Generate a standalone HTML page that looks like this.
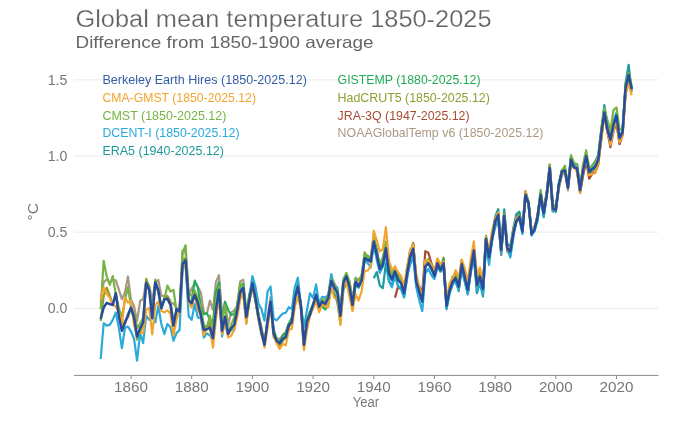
<!DOCTYPE html>
<html><head><meta charset="utf-8"><style>
html,body{margin:0;padding:0;background:#fff;width:680px;height:422px;overflow:hidden}
svg{display:block;font-family:"Liberation Sans",sans-serif;will-change:transform}
</style></head><body>
<svg width="680" height="422" viewBox="0 0 680 422">
<rect width="680" height="422" fill="#fff"/>
<line x1="74" x2="658" y1="308.30" y2="308.30" stroke="#eaeaea" stroke-width="1"/>
<line x1="74" x2="658" y1="232.15" y2="232.15" stroke="#eaeaea" stroke-width="1"/>
<line x1="74" x2="658" y1="156.00" y2="156.00" stroke="#eaeaea" stroke-width="1"/>
<line x1="74" x2="658" y1="79.85" y2="79.85" stroke="#eaeaea" stroke-width="1"/>
<text x="75.5" y="26.5" font-size="23.5" fill="#626262" stroke="#fff" stroke-width="0.25" textLength="416" lengthAdjust="spacingAndGlyphs">Global mean temperature 1850-2025</text>
<text x="75.5" y="47.5" font-size="16.5" fill="#666" textLength="298" lengthAdjust="spacingAndGlyphs">Difference from 1850-1900 average</text>
<text x="67.4" y="313.30" font-size="14" fill="#777" text-anchor="end" textLength="19.7" lengthAdjust="spacingAndGlyphs">0.0</text>
<text x="67.4" y="237.15" font-size="14" fill="#777" text-anchor="end" textLength="19.7" lengthAdjust="spacingAndGlyphs">0.5</text>
<text x="67.4" y="161.00" font-size="14" fill="#777" text-anchor="end" textLength="19.7" lengthAdjust="spacingAndGlyphs">1.0</text>
<text x="67.4" y="84.85" font-size="14" fill="#777" text-anchor="end" textLength="19.7" lengthAdjust="spacingAndGlyphs">1.5</text>
<text transform="translate(38,220.5) rotate(-90)" x="0" y="0" font-size="15.5" fill="#777">°C</text>
<polyline points="100.66,302.66 103.69,282.10 106.72,279.52 109.76,282.26 112.79,279.82 115.83,280.43 118.86,289.57 121.90,299.16 124.93,292.46 127.97,276.47 131.00,299.77 134.03,306.02 137.07,321.40 140.10,300.99 143.14,299.01 146.17,281.65 149.21,285.91 152.24,299.92 155.28,282.56 158.31,279.97 161.34,295.66 164.38,296.12 167.41,298.86 170.45,303.88 173.48,303.12 176.52,308.15 179.55,311.65 182.58,250.27 185.62,253.32 188.65,295.05 191.69,288.50 194.72,283.63 197.76,286.83 200.79,292.46 203.82,312.72 206.86,313.63 209.89,300.69 212.93,309.82 215.96,281.95 219.00,275.25 222.03,314.70 225.07,301.45 228.10,325.05 231.13,312.56 234.17,310.43 237.20,306.78 240.24,281.50 243.27,279.67 246.31,312.56 249.34,295.51 252.38,280.28 255.41,292.77 258.44,313.94 261.48,327.03 264.51,343.33 267.55,316.98 270.58,297.18 273.62,331.45 276.65,338.46 279.68,338.91 282.72,335.87 285.75,336.02 288.79,325.36 291.82,322.31 294.86,296.12 297.89,287.89 300.92,302.97 303.96,345.77 306.99,318.81 310.03,315.46 313.06,304.34 316.10,293.68 319.13,306.32 322.17,300.99 325.20,302.51 328.23,296.88 331.27,281.19 334.30,288.50 337.34,291.24 340.37,311.80 343.41,280.12 346.44,277.23 349.48,283.17 352.51,301.60 355.54,277.54 358.58,285.76 361.61,276.47 364.65,258.35 367.68,256.21 370.72,260.02 373.75,238.85 376.78,249.51 379.82,268.40 382.85,261.85 385.89,243.12 388.92,272.05 391.96,278.91 394.99,266.42 398.02,277.69 401.06,279.21 404.09,293.37 407.13,271.60 410.16,256.06 413.20,245.40 416.23,281.80 419.27,286.52 422.30,302.06 425.33,262.76 428.37,264.13 431.40,267.64 434.44,271.90 437.47,263.52 440.51,270.23 443.54,260.33 446.57,304.64 449.61,290.94 452.64,276.93 455.68,278.60 458.71,287.89 461.75,263.52 464.78,275.10 467.82,286.98 470.85,269.16 473.88,250.12 476.92,286.52 479.95,275.71 482.99,286.06 486.02,236.41 489.06,253.78 492.09,235.65 495.12,218.29 498.16,212.66 501.19,249.21 504.23,216.62 507.26,246.31 510.30,251.80 513.33,234.89 516.37,220.42 519.40,214.03 522.43,233.06 525.47,193.77 528.50,203.37 531.54,233.67 534.57,230.93 537.61,213.87 540.64,196.05 543.67,212.35 546.71,195.90 549.74,171.23 552.78,208.09 555.81,210.37 558.85,187.83 561.88,174.73 564.92,172.91 567.95,190.27 570.98,159.66 574.02,168.03 577.05,166.20 580.09,188.29 583.12,168.49 586.16,158.89 589.19,173.67 592.22,171.99 595.26,167.73 598.29,160.72 601.33,133.16 604.36,113.20 607.40,132.55 610.43,142.45 613.47,127.06 616.50,121.12 619.53,143.51 622.57,135.59 625.60,92.64 628.64,76.50 631.67,92.34" fill="none" stroke="#ab9884" stroke-width="2.2" stroke-linejoin="round"/>
<polyline points="394.99,297.64 398.02,286.83 401.06,289.26 404.09,292.77 407.13,274.95 410.16,256.21 413.20,243.12 416.23,279.82 419.27,286.83 422.30,291.85 425.33,251.19 428.37,252.71 431.40,263.22 434.44,272.36 437.47,263.07 440.51,269.46 443.54,264.13 446.57,305.25 449.61,288.96 452.64,277.99 455.68,277.99 458.71,288.35 461.75,265.35 464.78,276.77 467.82,292.77 470.85,267.94 473.88,251.80 476.92,284.85 479.95,278.60 482.99,288.96 486.02,240.37 489.06,258.04 492.09,237.63 495.12,223.01 498.16,219.36 501.19,255.00 504.23,215.70 507.26,251.04 510.30,254.84 513.33,233.06 516.37,222.40 519.40,217.22 522.43,230.17 525.47,196.82 528.50,204.28 531.54,231.54 534.57,230.63 537.61,214.18 540.64,195.60 543.67,210.07 546.71,191.79 549.74,164.68 552.78,203.97 555.81,208.09 558.85,185.55 561.88,173.21 564.92,170.32 567.95,187.98 570.98,163.62 574.02,166.81 577.05,170.77 580.09,192.70 583.12,175.49 586.16,161.03 589.19,178.69 592.22,173.82 595.26,172.30 598.29,164.68 601.33,138.64 604.36,115.49 607.40,131.78 610.43,147.17 613.47,131.18 616.50,123.56 619.53,144.12 622.57,134.07 625.60,92.34 628.64,74.82 631.67,89.29" fill="none" stroke="#a84b2e" stroke-width="2.2" stroke-linejoin="round"/>
<polyline points="100.66,320.94 103.69,296.12 106.72,287.74 109.76,295.51 112.79,304.34 115.83,293.37 118.86,312.11 121.90,327.95 124.93,320.79 127.97,317.44 131.00,307.54 134.03,319.42 137.07,339.52 140.10,331.75 143.14,325.05 146.17,278.91 149.21,286.98 152.24,315.61 155.28,279.67 158.31,292.77 161.34,308.60 164.38,297.94 167.41,295.96 170.45,300.84 173.48,320.94 176.52,311.35 179.55,308.91 182.58,260.48 185.62,257.89 188.65,300.84 191.69,300.23 194.72,295.81 197.76,296.57 200.79,309.37 203.82,327.64 206.86,329.47 209.89,322.46 212.93,336.63 215.96,305.86 219.00,286.52 222.03,330.69 225.07,317.74 228.10,333.73 231.13,329.77 234.17,329.17 237.20,313.94 240.24,290.48 243.27,294.44 246.31,323.68 249.34,301.45 252.38,286.67 255.41,300.99 258.44,319.57 261.48,335.10 264.51,344.24 267.55,325.66 270.58,304.34 273.62,336.93 276.65,341.81 279.68,346.22 282.72,341.20 285.75,337.08 288.79,327.19 291.82,323.07 294.86,296.73 297.89,289.87 300.92,309.37 303.96,346.98 306.99,320.18 310.03,313.78 313.06,305.25 316.10,295.81 319.13,308.15 322.17,301.14 325.20,305.86 328.23,295.96 331.27,277.08 334.30,283.32 337.34,289.26 340.37,310.89 343.41,283.02 346.44,275.10 349.48,281.34 352.51,300.23 355.54,279.52 358.58,280.12 361.61,276.01 364.65,252.41 367.68,256.97 370.72,259.11 373.75,237.02 376.78,252.56 379.82,265.35 382.85,257.74 385.89,244.94 388.92,272.05 391.96,278.45 394.99,269.46 398.02,274.18 401.06,280.12 404.09,290.48 407.13,272.05 410.16,249.97 413.20,245.86 416.23,279.97 419.27,290.79 422.30,300.84 425.33,265.20 428.37,259.11 431.40,267.33 434.44,273.42 437.47,260.48 440.51,268.85 443.54,257.58 446.57,305.25 449.61,286.98 452.64,277.38 455.68,276.16 458.71,281.19 461.75,261.85 464.78,276.62 467.82,288.20 470.85,269.01 473.88,248.90 476.92,284.54 479.95,272.36 482.99,285.15 486.02,237.33 489.06,258.50 492.09,238.09 495.12,221.49 498.16,215.24 501.19,250.27 504.23,212.35 507.26,249.06 510.30,253.02 513.33,229.56 516.37,219.36 519.40,212.96 522.43,231.08 525.47,191.64 528.50,201.54 531.54,231.69 534.57,227.12 537.61,216.46 540.64,196.97 543.67,214.79 546.71,193.16 549.74,165.75 552.78,205.95 555.81,210.07 558.85,184.02 561.88,169.86 564.92,169.55 567.95,185.39 570.98,159.66 574.02,166.51 577.05,167.27 580.09,191.33 583.12,167.88 586.16,153.26 589.19,174.58 592.22,166.05 595.26,163.92 598.29,158.74 601.33,135.90 604.36,110.16 607.40,131.33 610.43,136.96 613.47,123.86 616.50,118.38 619.53,140.16 622.57,131.63 625.60,87.01 628.64,73.45 631.67,88.53" fill="none" stroke="#909d30" stroke-width="2.2" stroke-linejoin="round"/>
<polyline points="191.69,299.31 194.72,280.58 197.76,287.13 200.79,306.47 203.82,314.24 206.86,313.17 209.89,319.27 212.93,322.92 215.96,292.46 219.00,282.10 222.03,320.79 225.07,302.21 228.10,309.67 231.13,315.00 234.17,314.09 237.20,305.86 240.24,286.37 243.27,284.08 246.31,316.07 249.34,294.59 252.38,283.02 255.41,300.08 258.44,314.24 261.48,332.82 264.51,342.87 267.55,322.31 270.58,302.97 273.62,328.71 276.65,340.13 279.68,342.11 282.72,335.10 285.75,332.21 288.79,323.68 291.82,317.44 294.86,296.12 297.89,284.08 300.92,306.62 303.96,341.20 306.99,319.72 310.03,311.19 313.06,304.49 316.10,297.18 319.13,309.21 322.17,306.17 325.20,309.52 328.23,305.10 331.27,287.13 334.30,293.07 337.34,302.21 340.37,323.23 343.41,289.87 346.44,282.87 349.48,289.26 352.51,308.00 355.54,285.45 358.58,287.59 361.61,279.67 364.65,260.48 367.68,255.60 370.72,262.31 373.75,238.24 376.78,249.82 379.82,269.01 382.85,260.33 385.89,246.16 388.92,270.07 391.96,280.28 394.99,271.75 398.02,279.36 401.06,277.99 404.09,292.61 407.13,269.46 410.16,251.80 413.20,244.18 416.23,280.58 419.27,290.48 422.30,299.47 425.33,262.91 428.37,264.13 431.40,265.20 434.44,272.51 437.47,259.72 440.51,271.75 443.54,259.41 446.57,306.93 449.61,289.72 452.64,279.97 455.68,274.64 458.71,286.67 461.75,260.78 464.78,276.32 467.82,290.33 470.85,268.70 473.88,251.80 476.92,287.13 479.95,278.45 482.99,287.43 486.02,235.81 489.06,259.26 492.09,240.98 495.12,220.88 498.16,214.79 501.19,250.58 504.23,217.53 507.26,247.53 510.30,249.51 513.33,233.52 516.37,221.18 519.40,219.66 522.43,228.80 525.47,197.73 528.50,203.21 531.54,232.00 534.57,231.39 537.61,215.55 540.64,192.10 543.67,212.50 546.71,193.77 549.74,170.77 552.78,209.00 555.81,212.05 558.85,182.80 561.88,172.91 564.92,170.77 567.95,184.33 570.98,157.68 574.02,164.53 577.05,168.64 580.09,189.96 583.12,169.10 586.16,156.15 589.19,173.21 592.22,169.55 595.26,168.79 598.29,160.57 601.33,130.11 604.36,109.85 607.40,128.28 610.43,139.86 613.47,125.84 616.50,118.08 619.53,139.55 622.57,130.72 625.60,85.18 628.64,75.89 631.67,88.68" fill="none" stroke="#22ab58" stroke-width="2.2" stroke-linejoin="round"/>
<polyline points="373.75,278.30 376.78,272.05 379.82,285.61 382.85,288.20 385.89,263.37 388.92,281.04 391.96,285.00 394.99,275.56 398.02,286.52 401.06,286.98 404.09,296.57 407.13,278.45 410.16,259.41 413.20,249.06 416.23,285.76 419.27,294.75 422.30,301.90 425.33,264.59 428.37,263.52 431.40,269.16 434.44,275.25 437.47,266.42 440.51,268.70 443.54,265.50 446.57,309.06 449.61,293.68 452.64,284.69 455.68,278.30 458.71,291.09 461.75,266.42 464.78,280.28 467.82,294.29 470.85,272.20 473.88,257.89 476.92,293.22 479.95,283.02 482.99,296.42 486.02,242.20 489.06,258.95 492.09,235.65 495.12,216.92 498.16,209.15 501.19,242.05 504.23,209.46 507.26,244.03 510.30,245.86 513.33,228.34 516.37,214.03 519.40,211.59 522.43,229.26 525.47,191.18 528.50,203.21 531.54,232.91 534.57,226.51 537.61,218.75 540.64,195.29 543.67,217.07 546.71,196.21 549.74,169.10 552.78,211.44 555.81,209.46 558.85,185.85 561.88,170.16 564.92,169.25 567.95,186.00 570.98,159.05 574.02,164.07 577.05,164.22 580.09,188.44 583.12,167.57 586.16,156.61 589.19,168.49 592.22,165.59 595.26,161.03 598.29,154.93 601.33,130.41 604.36,105.13 607.40,125.84 610.43,139.70 613.47,122.19 616.50,113.05 619.53,136.96 622.57,131.02 625.60,82.59 628.64,64.77 631.67,90.82" fill="none" stroke="#1d9a99" stroke-width="2.2" stroke-linejoin="round"/>
<polyline points="100.66,359.02 103.69,323.23 106.72,325.66 109.76,324.90 112.79,319.87 115.83,312.41 118.86,328.10 121.90,348.20 124.93,328.10 127.97,326.58 131.00,331.60 134.03,338.76 137.07,360.54 140.10,333.12 143.14,343.18 146.17,315.76 149.21,319.87 152.24,314.85 155.28,322.46 158.31,305.86 161.34,323.99 164.38,334.04 167.41,323.99 170.45,327.34 173.48,340.74 176.52,333.12 179.55,329.93 182.58,268.85 185.62,264.13 188.65,316.22 191.69,319.87 194.72,303.73 197.76,317.44 200.79,318.05 203.82,337.54 206.86,333.43 209.89,335.41 212.93,340.44 215.96,307.69 219.00,292.16 222.03,336.48 225.07,319.72 228.10,334.95 231.13,326.27 234.17,330.38 237.20,310.89 240.24,289.26 243.27,287.28 246.31,312.26 249.34,298.25 252.38,276.01 255.41,286.67 258.44,303.43 261.48,309.37 264.51,320.64 267.55,291.55 270.58,286.52 273.62,318.50 276.65,320.33 279.68,316.68 282.72,313.63 285.75,312.72 288.79,307.23 291.82,309.06 294.86,286.98 297.89,277.69 300.92,305.86 303.96,326.88 306.99,309.98 310.03,293.22 313.06,297.94 316.10,284.39 319.13,303.88 322.17,296.88 325.20,297.64 328.23,295.20 331.27,274.18 334.30,287.43 337.34,287.28 340.37,311.96 343.41,282.10 346.44,273.73 349.48,288.04 352.51,303.27 355.54,281.04 358.58,287.59 361.61,282.41 364.65,258.80 367.68,263.07 370.72,267.48 373.75,244.33 376.78,260.02 379.82,272.97 382.85,266.87 385.89,253.17 388.92,281.50 391.96,287.28 394.99,275.40 398.02,285.45 401.06,289.57 404.09,297.64 407.13,275.56 410.16,264.74 413.20,256.82 416.23,286.98 419.27,300.53 422.30,311.19 425.33,273.27 428.37,269.01 431.40,275.25 434.44,279.06 437.47,267.94 440.51,271.14 443.54,268.09 446.57,308.00 449.61,289.87 452.64,282.10 455.68,282.87 458.71,289.72 461.75,269.46 464.78,282.26 467.82,294.14 470.85,270.23 473.88,251.49 476.92,291.09 479.95,281.95 482.99,293.68 486.02,246.62 489.06,264.89 492.09,240.07 495.12,228.04 498.16,216.77 501.19,254.23 504.23,215.55 507.26,248.45 510.30,257.58 513.33,238.09 516.37,219.66 519.40,218.29 522.43,233.98 525.47,194.53 528.50,202.45 531.54,235.65 534.57,230.63 537.61,221.03 540.64,196.82 543.67,216.77 546.71,195.14 549.74,167.88 552.78,211.44 555.81,209.76 558.85,187.98 561.88,174.73 564.92,169.40 567.95,187.68 570.98,156.76 574.02,166.51 577.05,166.81 580.09,192.86 583.12,167.88 586.16,159.20 589.19,171.08 592.22,165.75 595.26,163.62 598.29,156.76 601.33,133.46 604.36,111.07 607.40,126.76 610.43,142.60 613.47,121.58 616.50,112.59 619.53,138.64 622.57,130.26 625.60,87.92 628.64,76.65 631.67,88.68" fill="none" stroke="#2aaad9" stroke-width="2.2" stroke-linejoin="round"/>
<polyline points="100.66,309.21 103.69,260.93 106.72,276.32 109.76,284.85 112.79,276.01 115.83,294.90 118.86,308.00 121.90,317.74 124.93,299.77 127.97,287.13 131.00,306.78 134.03,313.02 137.07,328.25 140.10,323.23 143.14,318.05 146.17,282.26 149.21,290.63 152.24,312.72 155.28,286.06 158.31,291.24 161.34,306.47 164.38,299.31 167.41,285.45 170.45,291.55 173.48,289.87 176.52,310.74 179.55,312.87 182.58,252.56 185.62,245.25 188.65,293.07 191.69,296.27 194.72,290.48 197.76,298.71 200.79,307.69 203.82,324.90 206.86,327.34 209.89,315.76 212.93,329.77 215.96,300.69 219.00,286.22 222.03,321.85 225.07,305.41 228.10,332.52 231.13,324.90 234.17,317.59 237.20,304.19 240.24,283.17 243.27,286.83 246.31,311.65 249.34,297.03 252.38,283.63 255.41,297.64 258.44,314.39 261.48,329.47 264.51,344.85 267.55,320.94 270.58,304.64 273.62,334.65 276.65,338.91 279.68,343.63 282.72,340.74 285.75,336.93 288.79,323.68 291.82,321.25 294.86,299.01 297.89,286.98 300.92,306.02 303.96,343.18 306.99,321.40 310.03,315.00 313.06,304.95 316.10,297.64 319.13,308.76 322.17,299.47 325.20,299.92 328.23,296.12 331.27,279.67 334.30,287.59 337.34,290.02 340.37,310.13 343.41,279.06 346.44,272.81 349.48,281.50 352.51,303.12 355.54,278.30 358.58,279.67 361.61,276.01 364.65,254.39 367.68,256.97 370.72,256.82 373.75,236.41 376.78,253.32 379.82,262.91 382.85,258.65 385.89,241.59 388.92,267.64 391.96,273.88 394.99,267.33 398.02,275.56 401.06,279.67 404.09,292.00 407.13,267.33 410.16,252.41 413.20,247.23 416.23,278.14 419.27,288.20 422.30,299.01 425.33,264.13 428.37,259.87 431.40,264.44 434.44,272.66 437.47,260.63 440.51,270.23 443.54,262.15 446.57,304.95 449.61,286.67 452.64,276.93 455.68,273.88 458.71,282.41 461.75,259.87 464.78,276.62 467.82,285.61 470.85,265.05 473.88,250.88 476.92,285.91 479.95,277.69 482.99,285.61 486.02,238.85 489.06,258.04 492.09,235.96 495.12,220.12 498.16,216.01 501.19,250.43 504.23,213.87 507.26,248.29 510.30,251.04 513.33,230.02 516.37,218.90 519.40,215.85 522.43,229.41 525.47,195.45 528.50,201.54 531.54,232.15 534.57,228.49 537.61,216.77 540.64,189.81 543.67,210.52 546.71,194.53 549.74,164.83 552.78,203.67 555.81,207.48 558.85,184.78 561.88,170.62 564.92,165.75 567.95,186.00 570.98,155.09 574.02,162.70 577.05,164.38 580.09,187.83 583.12,163.62 586.16,150.21 589.19,167.73 592.22,166.51 595.26,161.48 598.29,156.00 601.33,128.28 604.36,108.18 607.40,120.06 610.43,130.87 613.47,110.01 616.50,107.42 619.53,129.80 622.57,129.04 625.60,83.96 628.64,73.15 631.67,85.33" fill="none" stroke="#77b443" stroke-width="2.2" stroke-linejoin="round"/>
<polyline points="100.66,299.77 103.69,287.59 106.72,293.98 109.76,297.64 112.79,304.64 115.83,306.47 118.86,312.56 121.90,323.83 124.93,297.94 127.97,302.51 131.00,300.99 134.03,325.05 137.07,334.19 140.10,332.97 143.14,332.82 146.17,309.67 149.21,308.00 152.24,334.50 155.28,305.25 158.31,301.60 161.34,310.89 164.38,312.41 167.41,310.28 170.45,313.63 173.48,335.41 176.52,319.72 179.55,309.67 182.58,264.13 185.62,267.33 188.65,302.21 191.69,307.39 194.72,294.14 197.76,308.76 200.79,315.76 203.82,335.10 206.86,328.40 209.89,327.49 212.93,347.59 215.96,318.96 219.00,298.10 222.03,334.19 225.07,322.16 228.10,337.39 231.13,335.87 234.17,330.08 237.20,317.44 240.24,299.01 243.27,293.07 246.31,323.07 249.34,300.53 252.38,286.98 255.41,299.62 258.44,318.05 261.48,331.45 264.51,347.59 267.55,327.79 270.58,303.43 273.62,334.65 276.65,343.33 279.68,348.96 282.72,344.09 285.75,345.31 288.79,329.77 291.82,328.86 294.86,306.78 297.89,296.57 300.92,309.67 303.96,350.18 306.99,329.77 310.03,316.22 313.06,308.15 316.10,301.29 319.13,312.26 322.17,304.19 325.20,306.32 328.23,307.39 331.27,286.22 334.30,297.94 337.34,298.10 340.37,324.90 343.41,287.89 346.44,281.65 349.48,296.42 352.51,311.19 355.54,294.14 358.58,300.53 361.61,291.24 364.65,271.14 367.68,270.53 370.72,266.27 373.75,230.78 376.78,240.07 379.82,251.49 382.85,249.06 385.89,227.12 388.92,260.33 391.96,270.07 394.99,267.03 398.02,272.20 401.06,276.01 404.09,285.61 407.13,266.72 410.16,250.88 413.20,244.18 416.23,273.73 419.27,286.98 422.30,297.33 425.33,260.17 428.37,260.78 431.40,265.20 434.44,270.53 437.47,258.35 440.51,264.59 443.54,261.54 446.57,300.38 449.61,282.87 452.64,278.60 455.68,270.23 458.71,278.30 461.75,259.72 464.78,268.40 467.82,281.65 470.85,258.04 473.88,241.44 476.92,275.10 479.95,267.48 482.99,286.06 486.02,236.72 489.06,251.19 492.09,230.78 495.12,218.75 498.16,212.35 501.19,246.47 504.23,214.64 507.26,246.77 510.30,250.58 513.33,232.15 516.37,217.99 519.40,216.62 522.43,230.63 525.47,191.18 528.50,205.50 531.54,232.45 534.57,226.21 537.61,217.38 540.64,196.21 543.67,210.37 546.71,197.12 549.74,170.47 552.78,208.85 555.81,209.61 558.85,188.29 561.88,173.51 564.92,172.45 567.95,185.85 570.98,161.48 574.02,166.20 577.05,172.60 580.09,193.16 583.12,171.53 586.16,155.54 589.19,175.19 592.22,174.12 595.26,172.91 598.29,163.16 601.33,139.25 604.36,114.27 607.40,130.72 610.43,144.88 613.47,131.33 616.50,118.23 619.53,142.29 622.57,135.44 625.60,94.32 628.64,83.66 631.67,95.38" fill="none" stroke="#f3a42c" stroke-width="2.2" stroke-linejoin="round"/>
<polyline points="100.66,318.96 103.69,307.54 106.72,302.82 109.76,304.04 112.79,304.95 115.83,293.22 118.86,315.92 121.90,330.69 124.93,323.23 127.97,314.85 131.00,307.54 134.03,317.44 137.07,336.48 140.10,328.10 143.14,322.46 146.17,282.87 149.21,290.02 152.24,318.35 155.28,282.41 158.31,290.02 161.34,308.30 164.38,299.47 167.41,298.71 170.45,304.95 173.48,325.66 176.52,309.06 179.55,311.65 182.58,264.13 185.62,260.33 188.65,300.69 191.69,303.27 194.72,294.75 197.76,302.97 200.79,314.85 203.82,329.93 206.86,329.17 209.89,327.49 212.93,338.15 215.96,309.98 219.00,290.02 222.03,330.69 225.07,316.68 228.10,334.04 231.13,328.25 234.17,324.90 237.20,310.58 240.24,291.55 243.27,288.20 246.31,317.13 249.34,299.92 252.38,283.32 255.41,298.25 258.44,316.68 261.48,331.60 264.51,344.85 267.55,321.55 270.58,301.75 273.62,333.12 276.65,340.74 279.68,343.18 282.72,338.76 285.75,337.24 288.79,324.90 291.82,322.31 294.86,298.25 297.89,286.67 300.92,306.02 303.96,344.85 306.99,321.55 310.03,314.39 313.06,304.95 316.10,295.05 319.13,306.62 322.17,301.60 325.20,304.04 328.23,298.25 331.27,280.89 334.30,287.74 337.34,292.46 340.37,315.76 343.41,282.41 346.44,276.32 349.48,286.98 352.51,304.95 355.54,282.10 358.58,286.22 361.61,280.43 364.65,258.19 367.68,259.87 370.72,261.54 373.75,241.59 376.78,254.84 379.82,269.01 382.85,264.89 385.89,248.14 388.92,273.27 391.96,279.82 394.99,271.44 398.02,279.82 401.06,283.17 404.09,293.07 407.13,273.27 410.16,256.52 413.20,248.90 416.23,281.65 419.27,291.55 422.30,301.45 425.33,266.42 428.37,263.37 431.40,268.25 434.44,275.86 437.47,263.37 440.51,270.23 443.54,263.37 446.57,305.71 449.61,289.87 452.64,281.65 455.68,278.14 458.71,286.67 461.75,264.13 464.78,277.38 467.82,289.87 470.85,268.25 473.88,250.43 476.92,285.00 479.95,276.62 482.99,288.96 486.02,239.00 489.06,257.28 492.09,238.24 495.12,221.49 498.16,214.94 501.19,249.97 504.23,215.85 507.26,248.14 510.30,251.49 513.33,233.22 516.37,220.73 519.40,216.92 522.43,231.39 525.47,194.84 528.50,203.21 531.54,234.13 534.57,229.10 537.61,216.92 540.64,194.84 543.67,213.26 546.71,195.60 549.74,168.34 552.78,208.54 555.81,209.91 558.85,184.94 561.88,171.69 564.92,170.47 567.95,187.37 570.98,159.81 574.02,167.42 577.05,168.34 580.09,189.96 583.12,170.47 586.16,156.00 589.19,171.99 592.22,168.95 595.26,166.66 598.29,159.81 601.33,133.16 604.36,112.59 607.40,129.04 610.43,139.86 613.47,124.93 616.50,115.64 619.53,138.18 622.57,132.39 625.60,87.47 628.64,74.98 631.67,88.99" fill="none" stroke="#274c9e" stroke-width="2.5" stroke-linejoin="round"/>
<line x1="74" x2="658.5" y1="375.4" y2="375.4" stroke="#8a8a8a" stroke-width="1"/>
<line x1="131.00" x2="131.00" y1="375.4" y2="379" stroke="#8a8a8a" stroke-width="1"/>
<text x="131.00" y="391.6" font-size="15" fill="#777" text-anchor="middle" textLength="33.8" lengthAdjust="spacingAndGlyphs">1860</text>
<line x1="191.69" x2="191.69" y1="375.4" y2="379" stroke="#8a8a8a" stroke-width="1"/>
<text x="191.69" y="391.6" font-size="15" fill="#777" text-anchor="middle" textLength="33.8" lengthAdjust="spacingAndGlyphs">1880</text>
<line x1="252.38" x2="252.38" y1="375.4" y2="379" stroke="#8a8a8a" stroke-width="1"/>
<text x="252.38" y="391.6" font-size="15" fill="#777" text-anchor="middle" textLength="33.8" lengthAdjust="spacingAndGlyphs">1900</text>
<line x1="313.06" x2="313.06" y1="375.4" y2="379" stroke="#8a8a8a" stroke-width="1"/>
<text x="313.06" y="391.6" font-size="15" fill="#777" text-anchor="middle" textLength="33.8" lengthAdjust="spacingAndGlyphs">1920</text>
<line x1="373.75" x2="373.75" y1="375.4" y2="379" stroke="#8a8a8a" stroke-width="1"/>
<text x="373.75" y="391.6" font-size="15" fill="#777" text-anchor="middle" textLength="33.8" lengthAdjust="spacingAndGlyphs">1940</text>
<line x1="434.44" x2="434.44" y1="375.4" y2="379" stroke="#8a8a8a" stroke-width="1"/>
<text x="434.44" y="391.6" font-size="15" fill="#777" text-anchor="middle" textLength="33.8" lengthAdjust="spacingAndGlyphs">1960</text>
<line x1="495.12" x2="495.12" y1="375.4" y2="379" stroke="#8a8a8a" stroke-width="1"/>
<text x="495.12" y="391.6" font-size="15" fill="#777" text-anchor="middle" textLength="33.8" lengthAdjust="spacingAndGlyphs">1980</text>
<line x1="555.81" x2="555.81" y1="375.4" y2="379" stroke="#8a8a8a" stroke-width="1"/>
<text x="555.81" y="391.6" font-size="15" fill="#777" text-anchor="middle" textLength="33.8" lengthAdjust="spacingAndGlyphs">2000</text>
<line x1="616.50" x2="616.50" y1="375.4" y2="379" stroke="#8a8a8a" stroke-width="1"/>
<text x="616.50" y="391.6" font-size="15" fill="#777" text-anchor="middle" textLength="33.8" lengthAdjust="spacingAndGlyphs">2020</text>
<text x="366" y="406.5" font-size="14" fill="#777" text-anchor="middle" textLength="26.5" lengthAdjust="spacingAndGlyphs">Year</text>
<text x="102.4" y="84.2" font-size="13" fill="#3560a8" textLength="204.5" lengthAdjust="spacingAndGlyphs">Berkeley Earth Hires (1850-2025.12)</text>
<text x="102.4" y="101.9" font-size="13" fill="#f3a42c" textLength="153.6" lengthAdjust="spacingAndGlyphs">CMA-GMST (1850-2025.12)</text>
<text x="102.4" y="119.6" font-size="13" fill="#77b443" textLength="124" lengthAdjust="spacingAndGlyphs">CMST (1850-2025.12)</text>
<text x="102.4" y="137.3" font-size="13" fill="#2aaad9" textLength="137.2" lengthAdjust="spacingAndGlyphs">DCENT-I (1850-2025.12)</text>
<text x="102.4" y="155.0" font-size="13" fill="#1d9a99" textLength="121.6" lengthAdjust="spacingAndGlyphs">ERA5 (1940-2025.12)</text>
<text x="337.6" y="84.2" font-size="13" fill="#22ab58" textLength="142.9" lengthAdjust="spacingAndGlyphs">GISTEMP (1880-2025.12)</text>
<text x="337.6" y="101.9" font-size="13" fill="#909d30" textLength="152.2" lengthAdjust="spacingAndGlyphs">HadCRUT5 (1850-2025.12)</text>
<text x="337.6" y="119.6" font-size="13" fill="#a84b2e" textLength="132" lengthAdjust="spacingAndGlyphs">JRA-3Q (1947-2025.12)</text>
<text x="337.6" y="137.3" font-size="13" fill="#ab9884" textLength="205.8" lengthAdjust="spacingAndGlyphs">NOAAGlobalTemp v6 (1850-2025.12)</text>
</svg>
</body></html>
